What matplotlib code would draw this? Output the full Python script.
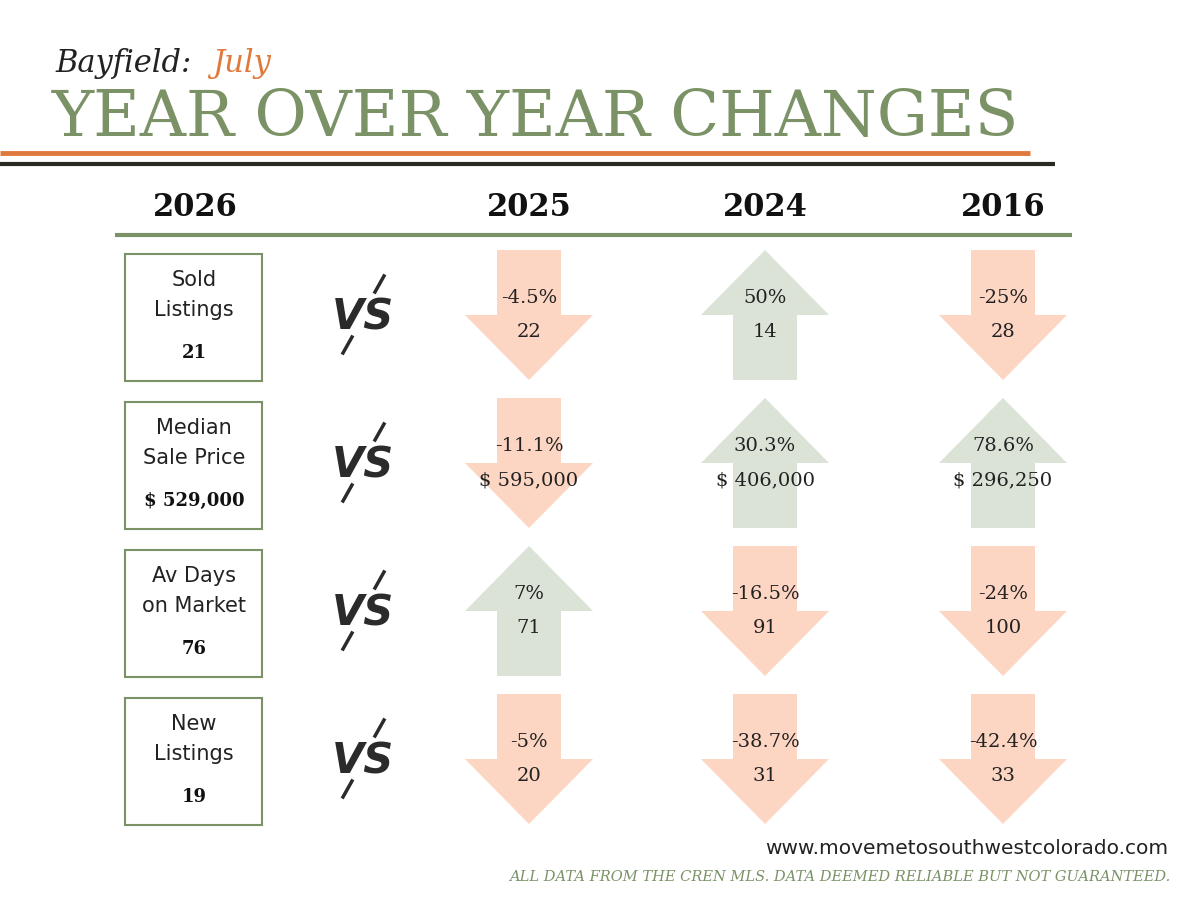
import matplotlib
matplotlib.use("Agg")
import matplotlib.pyplot as plt
from matplotlib.patches import Polygon, Rectangle

metrics = ["Sold\nListings", "Median\nSale Price", "Av Days\non Market", "New\nListings"]
current = ["21", "$ 529,000", "76", "19"]
years = ["2025", "2024", "2016"]
pct = [["-4.5%", "50%", "-25%"],
       ["-11.1%", "30.3%", "78.6%"],
       ["7%", "-16.5%", "-24%"],
       ["-5%", "-38.7%", "-42.4%"]]
vals = [["22", "14", "28"],
        ["$ 595,000", "$ 406,000", "$ 296,250"],
        ["71", "91", "100"],
        ["20", "31", "33"]]
up = [[False, True, False],
      [False, True, True],
      [True, False, False],
      [False, False, False]]

GREEN = "#7b9266"
ORANGE = "#e07a3c"
DOWN = "#fdd5c3"
UPC = "#dbe3d6"

fig = plt.figure(figsize=(12, 9), dpi=100)
ax = fig.add_axes([0, 0, 1, 1])
ax.set_xlim(0, 1200); ax.set_ylim(900, 0); ax.axis("off")

ax.text(55, 72, "Bayfield:", fontsize=22, family="DejaVu Serif", style="italic", color="#222222", va="baseline")
ax.text(212, 72, "July", fontsize=22, family="DejaVu Serif", style="italic", color=ORANGE, va="baseline")
ax.text(52, 136, "YEAR OVER YEAR CHANGES", fontsize=46, family="DejaVu Serif", color=GREEN, va="baseline")
ax.plot([0, 1030], [153, 153], color=ORANGE, lw=3.5, solid_capstyle="butt")
ax.plot([0, 1055], [164, 164], color="#2a2a22", lw=3, solid_capstyle="butt")

ax.text(195, 207, "2026", fontsize=22, family="DejaVu Serif", weight="bold", ha="center", va="center", color="#111111")
xs = [529, 765, 1003]
for x, y in zip(xs, years):
    ax.text(x, 207, y, fontsize=22, family="DejaVu Serif", weight="bold", ha="center", va="center", color="#111111")
ax.plot([115, 1072], [235, 235], color=GREEN, lw=3, solid_capstyle="butt")

tops = [250, 398, 546, 694]
H = 130
for i, t in enumerate(tops):
    ax.add_patch(Rectangle((125, t + 4), 137, 127, fill=False, ec=GREEN, lw=1.5))
    ax.text(194, t + 45, metrics[i], fontsize=15, family="DejaVu Sans", ha="center", va="center",
            linespacing=1.6, color="#222222")
    ax.text(194, t + 103, current[i], fontsize=13, family="DejaVu Serif", weight="bold", ha="center", va="center", color="#111111")
    ax.text(363, t + 68, "VS", fontsize=30, family="DejaVu Sans", weight="bold", style="italic",
            ha="center", va="center", color="#2b2b2b")
    ax.plot([375, 384], [t + 42, t + 26], color="#2b2b2b", lw=2.5)
    ax.plot([343, 352], [t + 103, t + 87], color="#2b2b2b", lw=2.5)
    for j, x in enumerate(xs):
        sw, hw, hl = 32, 64, 65
        if up[i][j]:
            pts = [(x, t), (x + hw, t + hl), (x + sw, t + hl), (x + sw, t + H), (x - sw, t + H),
                   (x - sw, t + hl), (x - hw, t + hl)]
            c = UPC
        else:
            pts = [(x - sw, t), (x + sw, t), (x + sw, t + hl), (x + hw, t + hl), (x, t + H),
                   (x - hw, t + hl), (x - sw, t + hl)]
            c = DOWN
        ax.add_patch(Polygon(pts, closed=True, fc=c, ec="none"))
        ax.text(x, t + 48, pct[i][j], fontsize=14, family="DejaVu Serif", ha="center", va="center", color="#222222")
        ax.text(x, t + 82, vals[i][j], fontsize=14, family="DejaVu Serif", ha="center", va="center", color="#222222")

ax.text(1168, 848, "www.movemetosouthwestcolorado.com", fontsize=14.5, family="DejaVu Sans",
        ha="right", va="center", color="#222222")
ax.text(1170, 877, "ALL DATA FROM THE CREN MLS. DATA DEEMED RELIABLE BUT NOT GUARANTEED.", fontsize=10.5,
        family="DejaVu Serif", style="italic", ha="right", va="center", color=GREEN)

fig.savefig("out.png", dpi=100, facecolor="white")
